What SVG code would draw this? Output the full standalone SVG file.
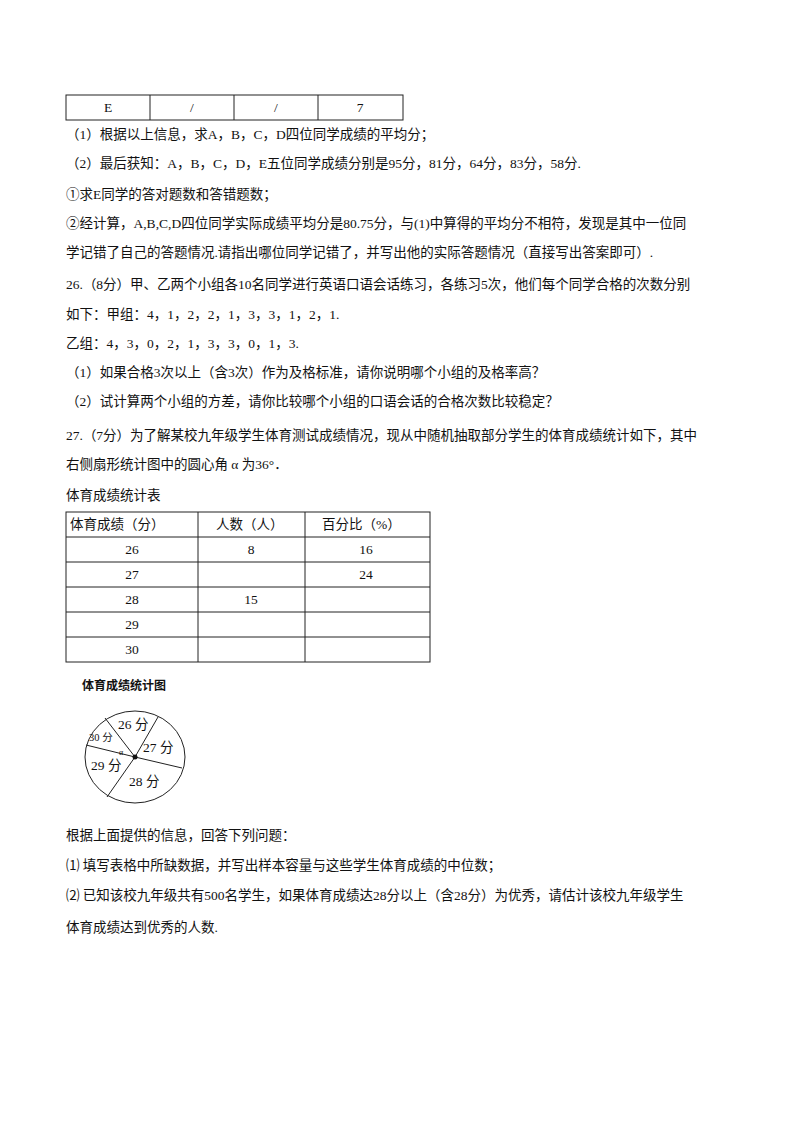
<svg xmlns="http://www.w3.org/2000/svg" width="800" height="1132" viewBox="0 0 800 1132">
<style>
text{font-family:"Liberation Serif","Noto Sans CJK SC",serif;font-size:13.5px;fill:#111}
.c{text-anchor:middle}
.l{stroke:#222;stroke-width:1;fill:none}
</style>
<rect width="800" height="1132" fill="#fff"/>
<g id="table1">
<rect class="l" x="66" y="95" width="337" height="25"/>
<path class="l" d="M150 95V120M234 95V120M318 95V120"/>
<text class="c" x="108" y="112">E</text><text class="c" x="192" y="112">/</text><text class="c" x="276" y="112">/</text><text class="c" x="360" y="112">7</text>
</g>
<g id="text1">
<text x="66" y="139">（1）根据以上信息，求A，B，C，D四位同学成绩的平均分；</text>
<text x="66" y="168">（2）最后获知：A，B，C，D，E五位同学成绩分别是95分，81分，64分，83分，58分.</text>
<text x="66" y="199">①求E同学的答对题数和答错题数；</text>
<text x="66" y="228">②经计算，A,B,C,D四位同学实际成绩平均分是80.75分，与(1)中算得的平均分不相符，发现是其中一位同</text>
<text x="66" y="257">学记错了自己的答题情况.请指出哪位同学记错了，并写出他的实际答题情况（直接写出答案即可）.</text>
<text x="66" y="289">26.（8分）甲、乙两个小组各10名同学进行英语口语会话练习，各练习5次，他们每个同学合格的次数分别</text>
<text x="66" y="319">如下：甲组：4，1，2，2，1，3，3，1，2，1.</text>
<text x="66" y="348">乙组：4，3，0，2，1，3，3，0，1，3.</text>
<text x="66" y="377">（1）如果合格3次以上（含3次）作为及格标准，请你说明哪个小组的及格率高？</text>
<text x="66" y="406">（2）试计算两个小组的方差，请你比较哪个小组的口语会话的合格次数比较稳定？</text>
<text x="66" y="440">27.（7分）为了解某校九年级学生体育测试成绩情况，现从中随机抽取部分学生的体育成绩统计如下，其中</text>
<text x="66" y="469">右侧扇形统计图中的圆心角 α 为36°．</text>
<text x="66" y="500">体育成绩统计表</text>
</g>
<g id="table2">
<rect class="l" x="66" y="512" width="364" height="150"/>
<path class="l" d="M66 537H430M66 562H430M66 587H430M66 612H430M66 637H430M198 512V662M305 512V662"/>
<text x="70" y="529">体育成绩（分）</text><text x="216" y="529">人数（人）</text><text x="322" y="529">百分比（%）</text>
<text class="c" x="132" y="554">26</text><text class="c" x="251" y="554">8</text><text class="c" x="366" y="554">16</text>
<text class="c" x="132" y="579">27</text><text class="c" x="366" y="579">24</text>
<text class="c" x="132" y="604">28</text><text class="c" x="251" y="604">15</text>
<text class="c" x="132" y="629">29</text>
<text class="c" x="132" y="654">30</text>
</g>
<g id="pie">
<text x="82" y="690" style="font-family:'Noto Sans CJK SC',sans-serif;font-size:12px;font-weight:bold">体育成绩统计图</text>
<ellipse class="l" cx="135" cy="757" rx="50" ry="46"/>
<path class="l" d="M135 757L105 718M135 757L158 717M135 757L182 768M135 757L107 797M135 757L86 745"/>
<circle cx="135" cy="757" r="2.5" fill="#111"/>
<g style="font-size:11px">
<text x="118" y="729">26 分</text>
<text x="143" y="752">27 分</text>
<text x="89" y="741" style="font-size:10.5px">30 分</text>
<text x="119" y="755" style="font-size:8px">α</text>
<text x="91" y="770">29 分</text>
<text x="129" y="786">28 分</text>
</g>
</g>
<g id="text2">
<text x="66" y="840">根据上面提供的信息，回答下列问题：</text>
<text x="66" y="870">⑴  填写表格中所缺数据，并写出样本容量与这些学生体育成绩的中位数；</text>
<text x="66" y="900">⑵  已知该校九年级共有500名学生，如果体育成绩达28分以上（含28分）为优秀，请估计该校九年级学生</text>
<text x="66" y="932">体育成绩达到优秀的人数.</text>
</g>
</svg>
